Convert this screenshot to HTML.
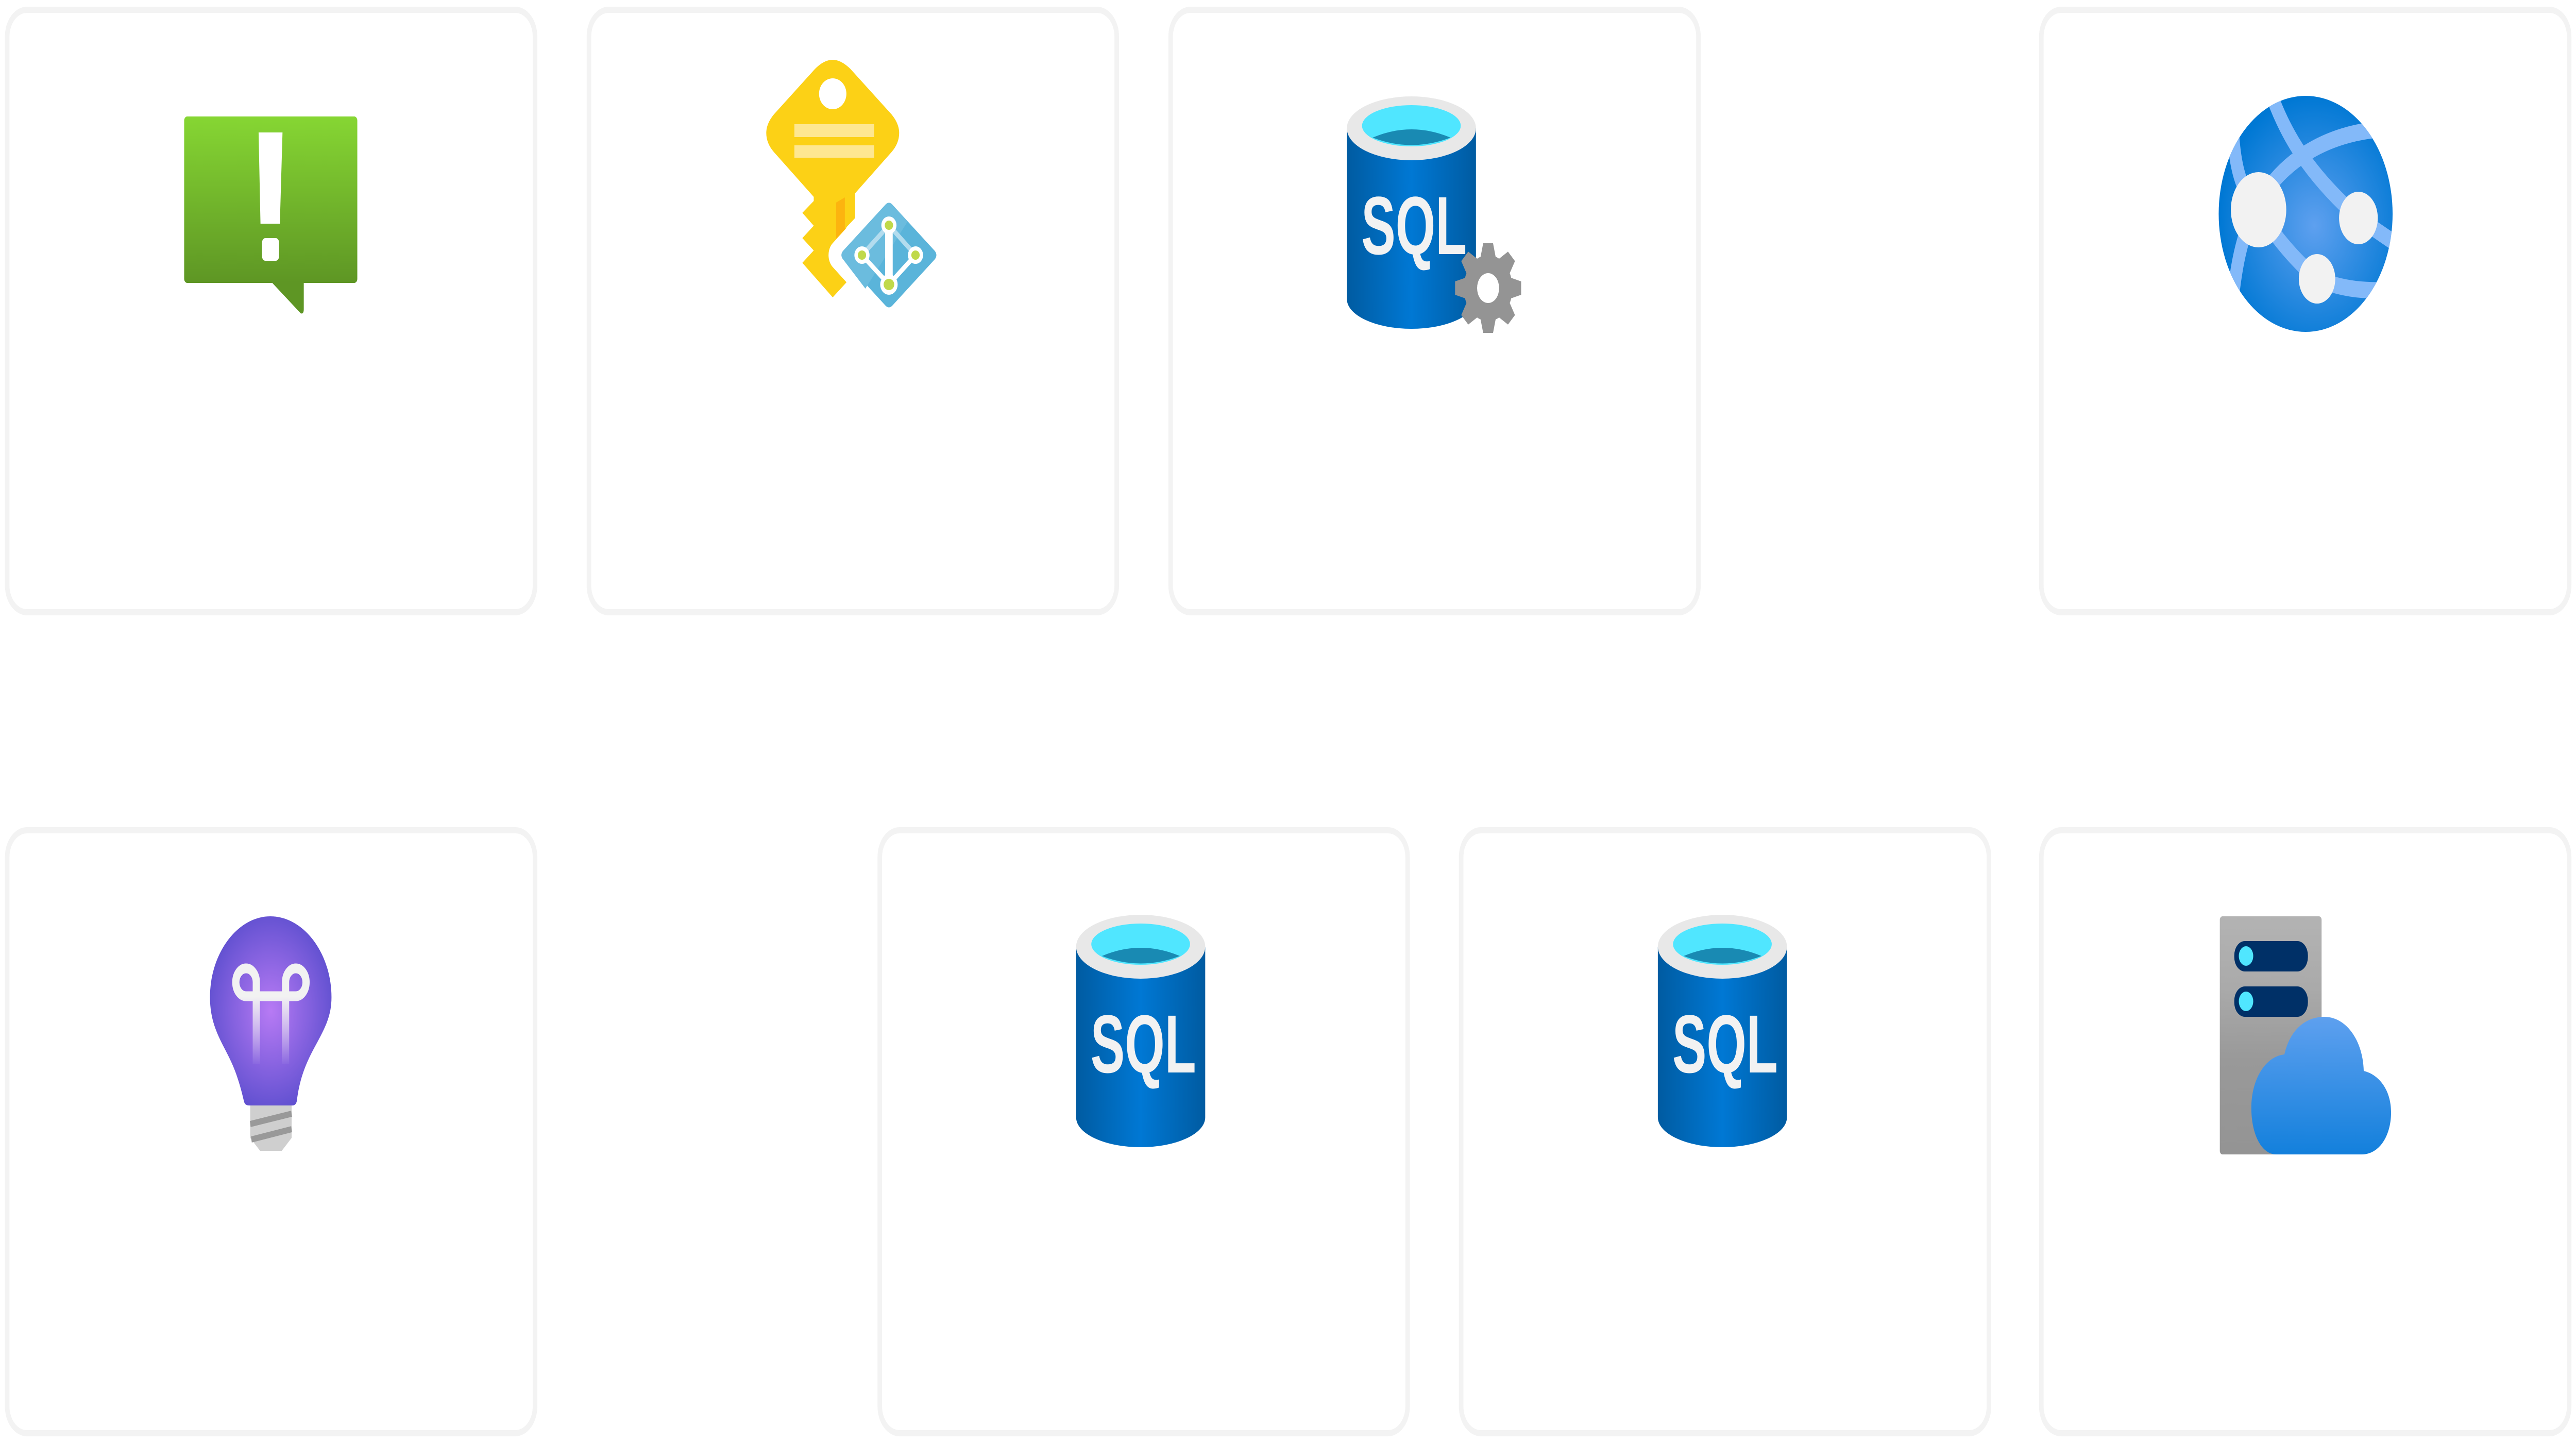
<!DOCTYPE html>
<html><head><meta charset="utf-8"><style>html,body{margin:0;padding:0;background:#fff;overflow:hidden}svg{display:block;width:100vw;height:100vh}</style></head>
<body>
<svg viewBox="0 0 6784 2798" preserveAspectRatio="none" xmlns="http://www.w3.org/2000/svg">
<defs>
<linearGradient id="gg" x1="0" y1="0" x2="0" y2="1"><stop offset="0" stop-color="#86d633"/><stop offset="1" stop-color="#5e9624"/></linearGradient>
<linearGradient id="cyl" x1="0" y1="0" x2="1" y2="0"><stop offset="0" stop-color="#005ba1"/><stop offset="0.5" stop-color="#0078d4"/><stop offset="1" stop-color="#005ba1"/></linearGradient>
<radialGradient id="glob" cx="0.55" cy="0.55" r="0.55"><stop offset="0" stop-color="#5ea0ef"/><stop offset="1" stop-color="#0078d4"/></radialGradient>
<radialGradient id="bulb" cx="0.5" cy="0.5" r="0.55"><stop offset="0" stop-color="#b77af4"/><stop offset="1" stop-color="#5e4fcf"/></radialGradient>
<linearGradient id="fil" gradientUnits="userSpaceOnUse" x1="0" y1="1934" x2="0" y2="2070"><stop offset="0" stop-color="#f2f2f2" stop-opacity="1"/><stop offset="1" stop-color="#f2f2f2" stop-opacity="0"/></linearGradient>
<linearGradient id="srv" x1="0" y1="0" x2="0" y2="1"><stop offset="0" stop-color="#b3b3b3"/><stop offset="0.3" stop-color="#aaa"/><stop offset="0.6" stop-color="#999"/><stop offset="1" stop-color="#949494"/></linearGradient>
<linearGradient id="cld" x1="0" y1="0" x2="0" y2="1"><stop offset="0" stop-color="#5ea0ef"/><stop offset="1" stop-color="#1380dc"/></linearGradient>
<clipPath id="gc"><circle cx="6072" cy="415" r="229"/></clipPath>
<g id="sqlcyl">
  <path d="M3547 249 L3547 580 A170 58 0 0 0 3887 580 L3887 249 Z" fill="url(#cyl)"/>
  <ellipse cx="3717" cy="249" rx="170" ry="62" fill="#e8e8e8"/>
  <ellipse cx="3717" cy="244" rx="130" ry="40" fill="#50e6ff"/>
  <path d="M3615 267 Q3717 235 3820 267 Q3717 296 3615 267 Z" fill="#198ab3"/>
  <text x="3585" y="493" font-family="Liberation Sans, sans-serif" font-weight="bold" font-size="160" fill="#f2f2f2" textLength="278" lengthAdjust="spacingAndGlyphs">SQL</text>
</g>
</defs>

<g fill="none" stroke="#f3f3f3" stroke-width="12">
<rect x="19" y="19" width="1390" height="1169" rx="52"/>
<rect x="1551" y="19" width="1390" height="1169" rx="52"/>
<rect x="3083" y="19" width="1390" height="1169" rx="52"/>
<rect x="5376" y="19" width="1390" height="1169" rx="52"/>
<rect x="19" y="1611" width="1390" height="1170" rx="52"/>
<rect x="2317" y="1611" width="1390" height="1170" rx="52"/>
<rect x="3848" y="1611" width="1390" height="1170" rx="52"/>
<rect x="5376" y="1611" width="1390" height="1170" rx="52"/>
</g>

<rect x="485" y="226" width="456" height="323" rx="8" fill="url(#gg)"/>
<path d="M712 545 L792 608 Q800 610 800 600 L800 545 Z" fill="#5e9624"/>
<path d="M681 257 L744 257 L737 434 L686 434 Z" fill="#fff"/>
<rect x="690" y="462" width="45" height="44" rx="9" fill="#fff"/>

<path d="M2193 116 Q2215 116 2240 134 L2348 222 Q2368 240 2368 258 Q2368 278 2348 295 L2252 375 L2252 423 L2229 441 L2229 548 L2193 577 L2113 510 L2143 486 L2113 462 L2143 438 L2113 413 L2143 390 L2143 382 L2038 295 Q2018 278 2018 258 Q2018 240 2038 222 L2146 134 Q2170 116 2193 116 Z" fill="#fcd116"/>
<ellipse cx="2193" cy="182" rx="36" ry="30" fill="#fff"/>
<rect x="2092" y="241" width="210" height="25" fill="#fee791"/>
<rect x="2092" y="282" width="210" height="24" fill="#fee791"/>
<polygon points="2202,393 2225,383 2225,445 2202,463" fill="#fcb40f"/>
<path d="M2341 390 L2470 495 L2341 600 L2212 495 Z" fill="#fff" stroke="#fff" stroke-width="60" stroke-linejoin="round"/>
<path d="M2332 397 Q2341 390 2350 397 L2462 487 Q2470 495 2462 503 L2350 593 Q2341 600 2332 593 L2220 503 Q2212 495 2220 487 Z" fill="#5ab4da"/>
<path d="M2332 397 Q2341 390 2350 397 L2390 430 L2279 560 L2220 503 Q2212 495 2220 487 Z" fill="#6bbcde"/>
<g stroke="#b3dcee" stroke-width="10"><line x1="2341" y1="437" x2="2270" y2="495"/><line x1="2341" y1="437" x2="2411" y2="495"/></g>
<g stroke="#fff" stroke-width="10"><line x1="2270" y1="495" x2="2341" y2="552"/><line x1="2411" y1="495" x2="2341" y2="552"/></g>
<rect x="2331" y="437" width="20" height="115" fill="#fff"/>
<g fill="#fff"><ellipse cx="2341" cy="437" rx="20" ry="17"/><ellipse cx="2270" cy="495" rx="20" ry="17"/><ellipse cx="2411" cy="495" rx="20" ry="17"/><ellipse cx="2341" cy="552" rx="23" ry="20"/></g>
<g fill="#c0d94a"><ellipse cx="2341" cy="437" rx="11" ry="9"/><ellipse cx="2270" cy="495" rx="11" ry="9"/><ellipse cx="2411" cy="495" rx="11" ry="9"/><ellipse cx="2341" cy="552" rx="14" ry="11"/></g>

<use href="#sqlcyl"/>
<g transform="translate(3919 559)" fill="#949494">
  <circle r="64"/>
  <path d="M-13 -87 L13 -87 L20 -60 L-20 -60 Z"/>
  <path d="M-13 -87 L13 -87 L20 -60 L-20 -60 Z" transform="rotate(45)"/>
  <path d="M-13 -87 L13 -87 L20 -60 L-20 -60 Z" transform="rotate(90)"/>
  <path d="M-13 -87 L13 -87 L20 -60 L-20 -60 Z" transform="rotate(135)"/>
  <path d="M-13 -87 L13 -87 L20 -60 L-20 -60 Z" transform="rotate(180)"/>
  <path d="M-13 -87 L13 -87 L20 -60 L-20 -60 Z" transform="rotate(225)"/>
  <path d="M-13 -87 L13 -87 L20 -60 L-20 -60 Z" transform="rotate(270)"/>
  <path d="M-13 -87 L13 -87 L20 -60 L-20 -60 Z" transform="rotate(315)"/>
  <circle r="29" fill="#fff"/>
</g>

<circle cx="6072" cy="415" r="229" fill="url(#glob)"/>
<g clip-path="url(#gc)" fill="none" stroke="#83b9f9" stroke-width="32">
  <path d="M6290 250 C6120 255 5990 320 5930 420 C5900 470 5885 530 5875 620"/>
  <path d="M5985 190 C6030 280 6100 350 6211 423 L6320 478"/>
  <path d="M5880 250 C5885 320 5900 370 5948 407"/>
  <path d="M5948 407 C6000 470 6060 515 6102 541 C6170 562 6230 566 6320 562"/>
</g>
<g fill="#f2f2f2"><circle cx="5948" cy="407" r="73"/><circle cx="6211" cy="423" r="51"/><circle cx="6102" cy="541" r="48"/></g>

<path d="M659 2140 L768 2140 L768 2208 L742 2233 L685 2233 L659 2208 Z" fill="#cfcfcf"/>
<g stroke="#999" stroke-width="12"><line x1="659" y1="2181" x2="768" y2="2161"/><line x1="662" y1="2211" x2="768" y2="2191"/></g>
<path d="M712 1778 C625 1778 553 1850 553 1935 C553 2000 595 2030 620 2080 C634 2108 640 2130 643 2138 Q645 2145 657 2145 L770 2145 Q780 2145 782 2135 C788 2100 800 2070 830 2030 C858 1992 873 1970 873 1935 C873 1850 800 1778 712 1778 Z" fill="url(#bulb)"/>
<path d="M675 2065 L675 1905 A27 27 0 1 0 649 1933 L779 1933 A27 27 0 1 0 752 1905 L752 2065" fill="none" stroke="url(#fil)" stroke-width="19"/>

<use href="#sqlcyl" transform="translate(-713 1588)"/>
<use href="#sqlcyl" transform="translate(819 1588)"/>

<rect x="5846" y="1778" width="268" height="462" rx="7" fill="url(#srv)"/>
<rect x="5884" y="1826" width="194" height="59" rx="28" fill="#003067"/>
<rect x="5884" y="1914" width="194" height="59" rx="28" fill="#003067"/>
<ellipse cx="5915" cy="1855" rx="19" ry="19" fill="#50e6ff"/>
<ellipse cx="5915" cy="1943" rx="19" ry="19" fill="#50e6ff"/>
<path d="M5995 2240 C5955 2240 5929 2200 5929 2150 C5929 2095 5965 2050 6016 2046 C6030 2000 6070 1973 6121 1973 C6180 1973 6223 2020 6225 2078 C6265 2085 6297 2115 6297 2158 C6297 2205 6265 2240 6220 2240 Z" fill="url(#cld)"/>
</svg>
</body></html>
